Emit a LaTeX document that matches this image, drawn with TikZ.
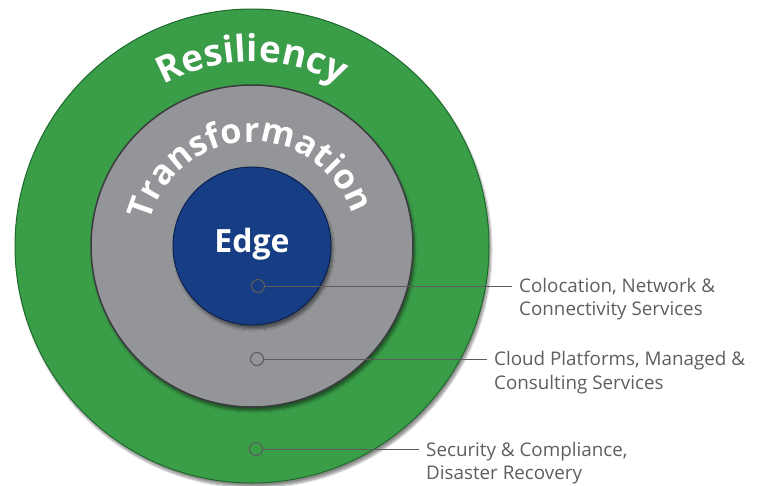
\documentclass[tikz,border=0pt]{standalone}
\usepackage{fontspec}
\setmainfont{Open Sans}
\usetikzlibrary{positioning, decorations.text, shadows.blur}
\definecolor{resilGreen}{HTML}{3A9E48}
\definecolor{resilLine}{HTML}{1F6A2B}
\definecolor{transGray}{HTML}{939598}
\definecolor{transLine}{HTML}{3B3B3D}
\definecolor{edgeBlue}{HTML}{173E85}
\definecolor{edgeLine}{HTML}{0B2150}
\definecolor{leadGray}{HTML}{5C5C5C}
\definecolor{labelGray}{HTML}{5E5E5E}

\newcommand{\bigringfont}{\bfseries\fontsize{37}{37}\selectfont}
\newcommand{\midringfont}{\bfseries\fontsize{34.5}{34.5}\selectfont}

\tikzset{
  ring/.style={circle, inner sep=0pt, blur shadow={shadow xshift=2pt, shadow yshift=-4pt, shadow opacity=45, shadow blur steps=10}},
  dotmark/.style={circle, draw=leadGray, line width=1.1pt, minimum size=13pt, inner sep=0pt},
  leader/.style={draw=leadGray, line width=0.9pt, shorten >=7pt},
  svclabel/.style={anchor=north west, align=left, text=labelGray, font=\fontsize{18.8}{23.5}\selectfont, inner sep=0pt},
  arctext/.style={decorate, decoration={text along path, text align=center, text={#1}}}
}

\begin{document}
\begin{tikzpicture}[x=1pt, y=-1pt]
	\useasboundingbox (0,0) rectangle (763,485);
	\coordinate (c) at (252,246);
	\coordinate (tc) at (252,247);

	\node[ring, fill=resilGreen, draw=resilLine, line width=1pt, minimum size=474pt] (resil) at (c) {};
	\node[ring, fill=transGray, draw=transLine, line width=1.5pt, minimum size=322pt] (trans) at (c) {};
	\node[ring, fill=edgeBlue, draw=edgeLine, line width=1pt, minimum size=158pt] (edge) at (c) {};

	% curved titles, a soft shadow first
	\begin{scope}[opacity=0.3, shift={(1.5,1.5)}]
		\path[postaction={arctext={|\bigringfont\color{black}|Resiliency}}] (c) ++(-150:184) arc[start angle=-150, end angle=-30, radius=184];
		\path[postaction={arctext={|\midringfont\color{black}|Transformation}}] (tc) ++(-172:105) arc[start angle=-172, end angle=-12, radius=105];
	\end{scope}
	\path[postaction={arctext={|\bigringfont\color{white}|Resiliency}}] (c) ++(-150:184) arc[start angle=-150, end angle=-30, radius=184];
	\path[postaction={arctext={|\midringfont\color{white}|Transformation}}] (tc) ++(-172:105) arc[start angle=-172, end angle=-12, radius=105];

	\node[font=\bfseries\fontsize{32}{32}\selectfont, text=white] (edgetitle) at (252,244) {Edge};

	\node[dotmark] (m1) at (258,286) {};
	\node[dotmark] (m2) at (257,359) {};
	\node[dotmark] (m3) at (256,449) {};

	\node[svclabel] (t1) at (519,278) {Colocation, Network \&\\Connectivity Services};
	\node[svclabel] (t2) at (494,351) {Cloud Platforms, Managed \&\\Consulting Services};
	\node[svclabel] (t3) at (426,442) {Security \& Compliance,\\Disaster Recovery};

	\draw[leader] (m1.east) -- (m1 -| t1.west);
	\draw[leader] (m2.east) -- (m2 -| t2.west);
	\draw[leader] (m3.east) -- (m3 -| t3.west);
\end{tikzpicture}
\end{document}
